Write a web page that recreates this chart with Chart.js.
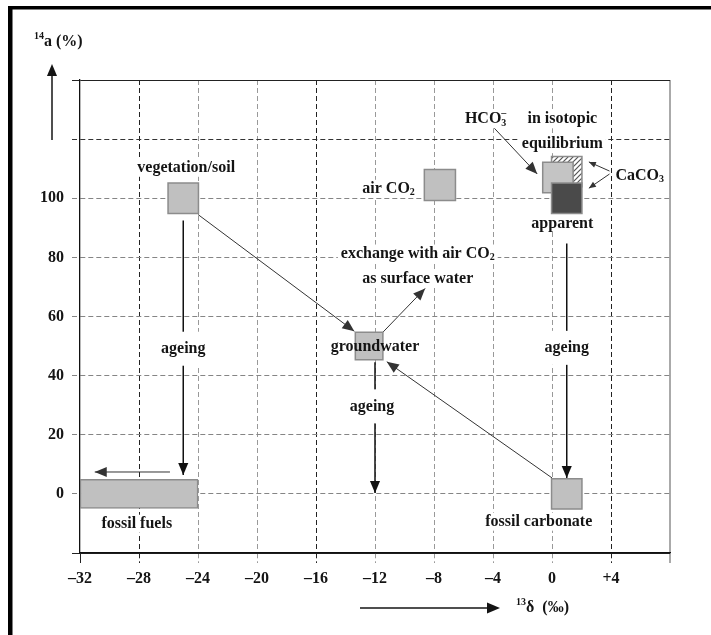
<!DOCTYPE html>
<html>
<head>
<meta charset="utf-8">
<script src="https://cdn.jsdelivr.net/npm/chart.js@4.4.1/dist/chart.umd.min.js"></script>
<style>
  html, body { margin: 0; padding: 0; background: #fff; }
  #wrap { position: relative; width: 711px; height: 635px; }
</style>
</head>
<body>
<div id="wrap"><canvas id="myChart"></canvas></div>
<script>
// carbon sources: 13C delta (permil) and 14C activity (%)
var sourceNames = ["vegetation/soil", "air CO2", "groundwater", "fossil carbonate"];
var sourceDelta = [-25, -7.6, -12.4, 1];
var sourceA14 = [100, 104.5, 50, 0];

// CaCO3 / HCO3- group: equilibrium CaCO3 (hatched), HCO3-, apparent CaCO3
var carbDelta = [1, 0.4, 1];
var carbA14 = [109, 107, 100];

// fossil fuels range
var fossilDelta = [-32, -24];
var fossilA14 = 0;

// arrows (from -> to)
var arrowFromX = [-24, -25, -25.9, -12, -11.5, 0, 1, -4.1, 3.9, 3.9];
var arrowFromY = [94.5, 92.5, 7.4, 44.5, 54.5, 5.4, 84.7, 124.7, 109.2, 108.2];
var arrowToX = [-13.4, -25, -31, -12, -8.6, -11.2, 1, -1, 2.5, 2.5];
var arrowToY = [55, 6.4, 7.4, 0.3, 69.5, 44.7, 5.4, 108.2, 112.3, 103.4];

var xTicks = [-32, -28, -24, -20, -16, -12, -8, -4, 0, 4];
var xTickLabels = ["–32", "–28", "–24", "–20", "–16", "–12", "–8", "–4", "0", "+4"];
var yTicks = [0, 20, 40, 60, 80, 100];

var notes = [
  { parts: [["vegetation/soil"]], x: -24.8, y: 110.3, bg: 9 },
  { parts: [["air CO"], ["2", "sub"]], x: -9.3, y: 103.2, align: "right", bg: 9 },
  { parts: [["HCO"], ["3", "sub"], ["–", "sup"]], x: -4.5, y: 126.7, bg: 9 },
  { parts: [["in isotopic"]], x: 0.7, y: 126.7, bg: 9 },
  { parts: [["equilibrium"]], x: 0.7, y: 118.3, bg: 9 },
  { parts: [["CaCO"], ["3", "sub"]], x: 5.95, y: 107.6, bg: 9 },
  { parts: [["apparent"]], x: 0.7, y: 91.4, bg: 8 },
  { parts: [["exchange with air CO"], ["2", "sub"]], x: -9.1, y: 81.3, bg: 9 },
  { parts: [["as surface water"]], x: -9.1, y: 72.9, bg: 9 },
  { parts: [["groundwater"]], x: -12, y: 49.7 },
  { parts: [["ageing"]], x: -25, y: 49.1, bg: 17 },
  { parts: [["ageing"]], x: -12.2, y: 29.6, bg: 17 },
  { parts: [["ageing"]], x: 1, y: 49.4, bg: 17 },
  { parts: [["fossil fuels"]], x: -28.15, y: -10.1, bg: 9 },
  { parts: [["fossil carbonate"]], x: -0.9, y: -9.4, bg: 9 }
];

var FONT = '"Liberation Serif", "Times New Roman", serif';
var INK = "#141414";

function hatch() {
  var c = document.createElement("canvas");
  c.width = 5; c.height = 5;
  var g = c.getContext("2d");
  g.fillStyle = "#fff"; g.fillRect(0, 0, 5, 5);
  g.strokeStyle = "#555"; g.lineWidth = 1.2;
  g.beginPath();
  g.moveTo(0, 5); g.lineTo(5, 0);
  g.moveTo(-1, 1); g.lineTo(1, -1);
  g.moveTo(4, 6); g.lineTo(6, 4);
  g.stroke();
  return g.createPattern(c, "repeat");
}

// draw text with sub/superscripts, baseline centred on y
function drawRich(ctx, parts, x, y, align, bg) {
  var big = "bold 16px " + FONT, small = "bold 10px " + FONT;
  var w = 0, lastStart = 0, widths = [];
  parts.forEach(function (p, i) {
    ctx.font = p[1] ? small : big;
    var pw = ctx.measureText(p[0]).width;
    widths.push(pw);
    if (p[1] === "sup" && i > 0 && parts[i - 1][1] === "sub") {
      w = Math.max(w, lastStart + pw);
    } else {
      lastStart = w;
      w += pw;
    }
  });
  var x0 = align === "right" ? x - w : align === "left" ? x : x - w / 2;
  if (bg) {
    ctx.fillStyle = "#fff";
    ctx.fillRect(x0 - 3, y - bg, w + 6, bg * 2);
  }
  ctx.fillStyle = INK;
  ctx.textAlign = "left";
  ctx.textBaseline = "middle";
  var cx = x0; lastStart = x0;
  parts.forEach(function (p, i) {
    ctx.font = p[1] ? small : big;
    var px = cx;
    if (p[1] === "sup" && i > 0 && parts[i - 1][1] === "sub") px = lastStart;
    else { lastStart = cx; cx += widths[i]; }
    var dy = p[1] === "sub" ? 4 : p[1] === "sup" ? -6 : 0;
    ctx.fillText(p[0], px, y + dy);
  });
}

function arrowHead(ctx, x0, y0, x1, y1, L, color) {
  var ang = Math.atan2(y1 - y0, x1 - x0), W = L * 0.42;
  ctx.save();
  ctx.fillStyle = color;
  ctx.beginPath();
  ctx.moveTo(x1, y1);
  ctx.lineTo(x1 - L * Math.cos(ang) + W * Math.sin(ang), y1 - L * Math.sin(ang) - W * Math.cos(ang));
  ctx.lineTo(x1 - L * Math.cos(ang) - W * Math.sin(ang), y1 - L * Math.sin(ang) + W * Math.cos(ang));
  ctx.closePath();
  ctx.fill();
  ctx.restore();
}

var notesPlugin = {
  id: "notes",
  afterDatasetsDraw: function (chart) {
    var ctx = chart.ctx, xs = chart.scales.x, ys = chart.scales.y;
    chart.data.datasets.forEach(function (ds, i) {
      if (!ds.arrowHead) return;
      var pts = chart.getDatasetMeta(i).data;
      arrowHead(ctx, pts[0].x, pts[0].y, pts[1].x, pts[1].y, ds.arrowHead, ds.borderColor);
    });
    ctx.save();
    notes.forEach(function (n) {
      drawRich(ctx, n.parts, xs.getPixelForValue(n.x), ys.getPixelForValue(n.y), n.align, n.bg);
    });
    ctx.restore();
  },
  afterDraw: function (chart) {
    var ctx = chart.ctx, a = chart.chartArea;
    ctx.save();
    // page frame
    ctx.fillStyle = "#000";
    ctx.fillRect(8, 6, 4.5, 629);
    ctx.fillRect(8, 6, 703, 3.5);
    // y axis title and arrow
    ctx.strokeStyle = INK; ctx.lineWidth = 1.5;
    ctx.beginPath(); ctx.moveTo(a.left - 28, a.top + 60); ctx.lineTo(a.left - 28, a.top - 10); ctx.stroke();
    arrowHead(ctx, a.left - 28, a.top + 60, a.left - 28, a.top - 16, 12, INK);
    drawRich(ctx, [["14", "sup"], ["a (%)"]], a.left - 46, a.top - 38, "left");
    // x axis title and arrow
    var ty = a.bottom + 55;
    ctx.beginPath(); ctx.moveTo(360, ty); ctx.lineTo(492, ty); ctx.stroke();
    arrowHead(ctx, 360, ty, 500, ty, 13, INK);
    drawRich(ctx, [["13", "sup"], ["δ  (‰)"]], 516, ty, "left");
    ctx.restore();
  }
};

function xColor(v) {
  if (v === -32) return "rgba(0,0,0,0)";
  if (v === 8) return "#aaa";
  if (v === -28 || v === -16 || v === 4) return "#222";
  return "#999";
}
function yColor(v) {
  if (v === 140 || v === -20) return "#222";
  if (v === 120) return "#333";
  return "#858585";
}
function tv(c) { return c.tick ? c.tick.value : null; }

var datasets = [];
arrowFromX.forEach(function (fx, i) {
  var small = i >= 8, vertical = fx === arrowToX[i];
  datasets.push({
    type: "line",
    data: [{ x: fx, y: arrowFromY[i] }, { x: arrowToX[i], y: arrowToY[i] }],
    showLine: true,
    fill: false,
    tension: 0,
    pointRadius: 0,
    borderWidth: vertical ? 1.5 : 1,
    borderColor: vertical ? "#111" : "#333",
    arrowHead: small ? 7 : 12,
    order: 10
  });
});
datasets.push({
  type: "bar",
  indexAxis: "y",
  label: "fossil fuels",
  data: [{ x: fossilDelta, y: fossilA14 }],
  barThickness: 29,
  backgroundColor: "#c0c0c0",
  borderColor: "#8c8c8c",
  borderWidth: 1.5,
  borderSkipped: false,
  order: 8
});
datasets.push({
  label: "sources",
  data: sourceDelta.map(function (d, i) { return { x: d, y: sourceA14[i] }; }),
  pointStyle: "rect",
  pointRadius: [21.5, 22, 19.5, 21.5],
  backgroundColor: "#c0c0c0",
  borderColor: "#8c8c8c",
  borderWidth: 1.5,
  order: 6
});
var carbFills = [hatch(), "#c4c4c4", "#4a4a4a"];
carbDelta.forEach(function (d, i) {
  datasets.push({
    label: "carbonate " + i,
    data: [{ x: d, y: carbA14[i] }],
    pointStyle: "rect",
    pointRadius: 21.5,
    backgroundColor: carbFills[i],
    borderColor: "#8c8c8c",
    borderWidth: 1.5,
    order: 5 - i
  });
});

var ctx = document.getElementById("myChart");
var myChart = new Chart(ctx, {
  type: "scatter",
  data: { datasets: datasets },
  plugins: [notesPlugin],
  options: {
    responsive: true,
    maintainAspectRatio: false,
    animation: false,
    events: [],
    layout: { padding: { top: 80, right: 41, left: 0, bottom: 0 }, autoPadding: false },
    plugins: { legend: { display: false }, tooltip: { enabled: false } },
    scales: {
      x: {
        type: "linear",
        min: -32, max: 8,
        offset: false,
        afterFit: function (s) { s.height = 82; },
        ticks: {
          stepSize: 4,
          padding: 6,
          color: INK,
          font: { family: FONT, weight: "bold", size: 16 },
          callback: function (v) { var i = xTicks.indexOf(v); return i < 0 ? "" : xTickLabels[i]; }
        },
        grid: {
          offset: false,
          tickLength: 10,
          color: function (c) { return xColor(tv(c)); },
          tickColor: function (c) { var v = tv(c); return v === -32 ? "#222" : xColor(v); },
          lineWidth: function (c) { return tv(c) === 8 ? 2 : 1; },
          tickWidth: function (c) { return tv(c) === 8 ? 2 : 1; },
          tickBorderDash: function (c) { var v = tv(c); return (v === -32 || v === 8) ? [] : [5, 3]; }
        },
        border: {
          color: "#111", width: 1.3,
          dash: function (c) { var v = tv(c); return (v === -32 || v === 8 || v === null) ? [] : [5, 3]; }
        }
      },
      y: {
        type: "linear",
        min: -20, max: 140,
        offset: false,
        afterFit: function (s) { s.width = 80; },
        ticks: {
          stepSize: 20,
          padding: 8,
          color: INK,
          font: { family: FONT, weight: "bold", size: 16 },
          callback: function (v) { return yTicks.indexOf(v) < 0 ? "" : String(v); }
        },
        grid: {
          offset: false,
          tickLength: 8,
          color: function (c) { return yColor(tv(c)); },
          tickColor: function (c) { return yColor(tv(c)); },
          tickBorderDash: function (c) { var v = tv(c); return (v === 140 || v === -20) ? [] : [5, 3]; }
        },
        border: {
          color: "#111", width: 1.3,
          dash: function (c) { var v = tv(c); return (v === 140 || v === -20 || v === null) ? [] : [5, 3]; }
        }
      }
    }
  }
});
</script>
</body>
</html>
